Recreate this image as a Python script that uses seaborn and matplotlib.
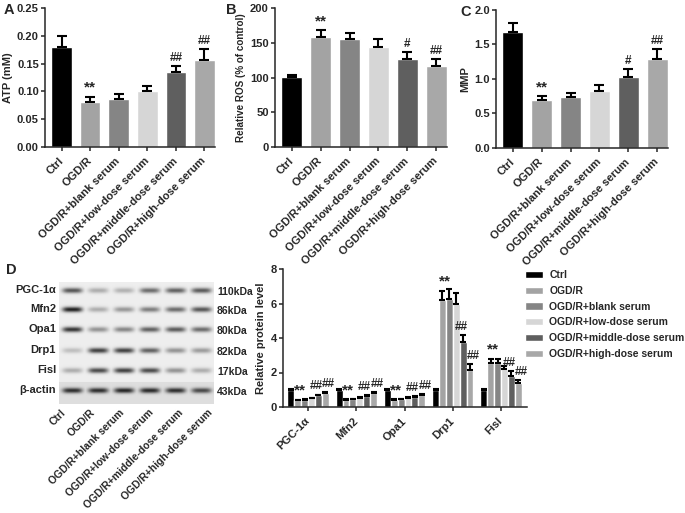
import numpy as np
import pandas as pd
import matplotlib
matplotlib.use("Agg")
import matplotlib.pyplot as plt
import seaborn as sns

# ---- data ----
groups = ["Ctrl", "OGD/R", "OGD/R+blank serum", "OGD/R+low-dose serum",
          "OGD/R+middle-dose serum", "OGD/R+high-dose serum"]
colors = ["#000000", "#a3a3a3", "#858585", "#d6d6d6", "#5f5f5f", "#a8a8a8"]

atp = [0.180, 0.081, 0.086, 0.101, 0.135, 0.156]
atp_err = [0.020, 0.009, 0.009, 0.009, 0.010, 0.020]
atp_marks = ["", "**", "", "", "##", "##"]

ros = [100.5, 158.5, 155.5, 144.0, 126.5, 116.0]
ros_err = [3.5, 10.0, 9.5, 11.0, 10.0, 10.5]
ros_marks = ["", "**", "", "", "#", "##"]

mmp = [1.68, 0.70, 0.74, 0.83, 1.03, 1.29]
mmp_err = [0.13, 0.05, 0.05, 0.08, 0.11, 0.14]
mmp_marks = ["", "**", "", "", "#", "##"]

proteins = ["PGC-1α", "Mfn2", "Opa1", "Drp1", "Fisl"]
prot_ctrl = [1.00, 1.00, 1.00, 1.00, 1.00]
prot_ogdr = [0.40, 0.42, 0.42, 6.20, 2.55]
prot_blank = [0.42, 0.45, 0.46, 6.25, 2.55]
prot_low = [0.52, 0.55, 0.55, 5.95, 2.20]
prot_middle = [0.68, 0.66, 0.60, 3.75, 1.80]
prot_high = [0.80, 0.82, 0.70, 2.12, 1.39]
prot_ctrl_err = [0.05, 0.05, 0.05, 0.05, 0.05]
prot_ogdr_err = [0.03, 0.03, 0.03, 0.55, 0.23]
prot_blank_err = [0.03, 0.03, 0.03, 0.60, 0.25]
prot_low_err = [0.03, 0.03, 0.03, 0.65, 0.20]
prot_middle_err = [0.04, 0.04, 0.03, 0.40, 0.28]
prot_high_err = [0.05, 0.04, 0.04, 0.38, 0.17]
prot_marks = {  # (group index, protein index): mark
    (1, 0): "**", (4, 0): "##", (5, 0): "##",
    (1, 1): "**", (4, 1): "##", (5, 1): "##",
    (1, 2): "**", (4, 2): "##", (5, 2): "##",
    (1, 3): "**", (4, 3): "##", (5, 3): "##",
    (1, 4): "**", (4, 4): "##", (5, 4): "##",
}

# western blot band intensities (0 = none, 1 = darkest)
blot_rows = ["PGC-1α", "Mfn2", "Opa1", "Drp1", "Fisl", "β-actin"]
blot_kda = ["110kDa", "86kDa", "80kDa", "82kDa", "17kDa", "43kDa"]
band_pgc = [0.70, 0.30, 0.28, 0.60, 0.65, 0.68]
band_mfn2 = [0.95, 0.30, 0.40, 0.52, 0.60, 0.70]
band_opa1 = [0.85, 0.42, 0.48, 0.65, 0.68, 0.60]
band_drp1 = [0.22, 0.80, 0.80, 0.65, 0.42, 0.38]
band_fisl = [0.30, 0.75, 0.80, 0.75, 0.42, 0.30]
band_actin = [0.88, 0.88, 0.92, 0.90, 0.88, 0.75]

sns.set_style("ticks")
plt.rcParams["font.family"] = ["Liberation Sans", "DejaVu Sans"]
plt.rcParams["font.weight"] = "bold"
plt.rcParams["axes.labelweight"] = "bold"
plt.rcParams["axes.linewidth"] = 1.1
plt.rcParams["xtick.major.width"] = 1.1
plt.rcParams["ytick.major.width"] = 1.1
plt.rcParams["xtick.major.size"] = 3
plt.rcParams["ytick.major.size"] = 3

W, H = 685, 513
fig = plt.figure(figsize=(W / 100, H / 100), dpi=100)
TICK_FS = 8


def px_axes(left, top, right, bottom):
    return fig.add_axes([left / W, 1 - bottom / H, (right - left) / W, (bottom - top) / H])


def rotate_xlabels(ax):
    for lab in ax.get_xticklabels():
        lab.set_rotation(45)
        lab.set_ha("right")
        lab.set_va("center")
        lab.set_rotation_mode("anchor")
        lab.set_fontweight("bold")


def style_axes(ax):
    sns.despine(ax=ax)
    ax.tick_params(axis="y", labelsize=TICK_FS, pad=1.5)
    ax.tick_params(axis="x", labelsize=TICK_FS, pad=6)
    rotate_xlabels(ax)
    for lab in ax.get_yticklabels():
        lab.set_fontweight("bold")


def put_mark(ax, mark, x, y, dx=0):
    fs = 11 if mark == "**" else 8.5
    ax.annotate(mark, (x, y), xytext=(dx, 1.5), textcoords="offset points",
                ha="center", va="bottom", fontsize=fs, fontweight="bold")


def simple_panel(ax, values, errors, marks, ymax, yticks, fmt, ylabel, ylab_fs=8):
    df = pd.DataFrame({"group": groups, "value": values})
    sns.barplot(data=df, x="group", y="value", hue="group", palette=colors,
                width=0.72, saturation=1, legend=False, errorbar=None, ax=ax)
    for i, (v, e) in enumerate(zip(values, errors)):
        ax.errorbar(i, v, yerr=[[0], [e]], color="black", capsize=3.6,
                    elinewidth=1.5, capthick=1.5)
        if marks[i]:
            put_mark(ax, marks[i], i, v + e)
    ax.set_xlim(-0.58, 5.37)
    ax.set_ylim(0, ymax)
    ax.set_yticks(yticks)
    ax.set_yticklabels([fmt.format(t) for t in yticks])
    ax.set_xlabel("")
    ax.set_ylabel(ylabel, fontsize=ylab_fs, labelpad=3)
    style_axes(ax)


# ---- panels A, B, C ----
axA = px_axes(45, 8.3, 215, 146.7)
simple_panel(axA, atp, atp_err, atp_marks, 0.25, [0, 0.05, 0.10, 0.15, 0.20, 0.25],
             "{:.2f}", "ATP (mM)")
axB = px_axes(275, 8.3, 447, 146.7)
simple_panel(axB, ros, ros_err, ros_marks, 200, [0, 50, 100, 150, 200],
             "{:.0f}", "Relative ROS (% of control)", ylab_fs=7.1)
axC = px_axes(496, 10, 668, 147.7)
simple_panel(axC, mmp, mmp_err, mmp_marks, 2.0, [0, 0.5, 1.0, 1.5, 2.0],
             "{:.1f}", "MMP")

# ---- panel D, grouped bars ----
prot_vals = [prot_ctrl, prot_ogdr, prot_blank, prot_low, prot_middle, prot_high]
prot_errs = [prot_ctrl_err, prot_ogdr_err, prot_blank_err, prot_low_err,
             prot_middle_err, prot_high_err]
rows = []
for g, vals in zip(groups, prot_vals):
    for p, v in zip(proteins, vals):
        rows.append({"protein": p, "group": g, "value": v})
dfD = pd.DataFrame(rows)

axD = px_axes(283, 269, 527, 407)
sns.barplot(data=dfD, x="protein", y="value", hue="group", hue_order=groups,
            palette=colors, width=6 / 7, saturation=1, errorbar=None, ax=axD)
mark_dx = {1: 1.5, 4: -1.5, 5: 2.5}
bar_containers = list(axD.containers)
for gi, cont in enumerate(bar_containers):
    for pi, bar in enumerate(cont):
        xc = bar.get_x() + bar.get_width() / 2
        v, e = prot_vals[gi][pi], prot_errs[gi][pi]
        axD.errorbar(xc, v, yerr=[[0], [e]], color="black", capsize=2.2,
                     elinewidth=1.5, capthick=1.5)
        mark = prot_marks.get((gi, pi))
        if mark:
            put_mark(axD, mark, xc, v + e, dx=mark_dx.get(gi, 0))
axD.set_xlim(-0.52, 4.54)
axD.set_ylim(0, 8)
axD.set_yticks([0, 2, 4, 6, 8])
axD.set_xlabel("")
axD.set_ylabel("Relative protein level", fontsize=8, labelpad=3)
style_axes(axD)

handles, labels = axD.get_legend_handles_labels()
axD.legend_.remove()
fig.legend(handles, labels, loc="upper left", bbox_to_anchor=(521 / W, 1 - 266 / H),
           frameon=False, fontsize=7.5, handlelength=1.7, handleheight=0.7,
           handletextpad=0.6, labelspacing=0.55, borderaxespad=0)

# ---- western blot image ----
band_table = [band_pgc, band_mfn2, band_opa1, band_drp1, band_fisl, band_actin]
row_y = [8, 27, 47, 68, 88, 108]  # band centre rows inside blot (px)
img_h, img_w = 122, 155
yy, xx = np.mgrid[0:img_h, 0:img_w]
lane_x = lambda i: 13 + 25.8 * i
bg = np.full((img_h, img_w), 238.0)
bg[100:, :] = 222.0
dark = np.zeros((img_h, img_w))
for r, intens in enumerate(band_table):
    for i, a in enumerate(intens):
        prof = np.exp(-0.5 * ((yy - row_y[r]) / 1.9) ** 2) * np.exp(-(np.abs(xx - lane_x(i)) / 10) ** 4)
        dark = np.maximum(dark, a * prof)
img = bg - (bg - 25) * dark

axBlot = px_axes(59, 282, 214, 404)
axBlot.imshow(img, cmap="gray", vmin=0, vmax=255, aspect="auto",
              extent=(-0.5, img_w / 25.8 - 0.5, img_h, 0), interpolation="bilinear")
axBlot.set_xlim(-0.5, img_w / 25.8 - 0.5)
axBlot.set_yticks([])
# lane labels are spaced a bit wider than the lanes themselves
axBlot.set_xticks([-0.31 + 1.14 * i for i in range(len(groups))])
axBlot.set_xticklabels(groups)
for s in axBlot.spines.values():
    s.set_visible(False)
axBlot.tick_params(axis="x", length=0, labelsize=7.5, pad=5)
rotate_xlabels(axBlot)
for r, (name, kda) in enumerate(zip(blot_rows, blot_kda)):
    ypx = 282 + row_y[r]
    fig.text(56 / W, 1 - ypx / H, name, ha="right", va="center", fontsize=8, fontweight="bold")
    fig.text(217 / W, 1 - (ypx + 2) / H, kda, ha="left", va="center", fontsize=7.5, fontweight="bold")

# ---- panel letters ----
for letter, (x, y) in zip("ABCD", [(4, 10), (226, 10), (460, 12), (6, 270)]):
    fig.text(x / W, 1 - y / H, letter, ha="left", va="center", fontsize=10.5, fontweight="bold")

fig.savefig("out.png", dpi=100)
